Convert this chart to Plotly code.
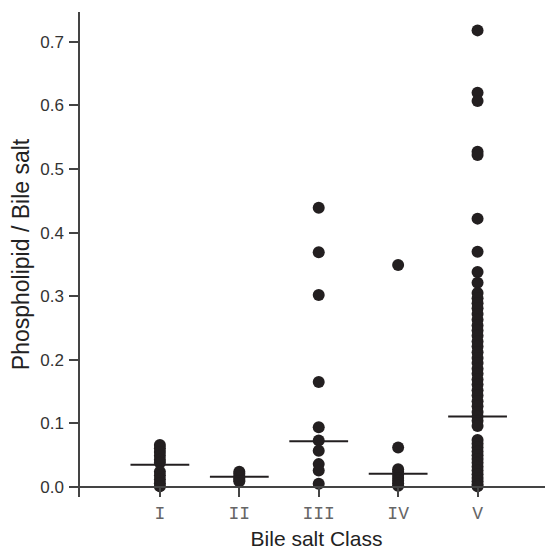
import plotly.graph_objects as go

categories = ["I", "II", "III", "IV", "V"]

class_I = [0.066, 0.061, 0.055, 0.049, 0.043, 0.038, 0.024, 0.018, 0.012, 0.006, 0.001]
class_II = [0.024, 0.021, 0.017, 0.014, 0.011, 0.009]
class_III = [0.439, 0.369, 0.302, 0.165, 0.094, 0.073, 0.057, 0.036, 0.026, 0.005]
class_IV = [0.349, 0.062, 0.028, 0.024, 0.019, 0.014, 0.010, 0.006, 0.002]
class_V = [0.718, 0.620, 0.607, 0.527, 0.522, 0.422, 0.370, 0.338, 0.321,
           0.305, 0.297, 0.289, 0.281, 0.272, 0.263, 0.254, 0.246, 0.238,
           0.229, 0.221, 0.212, 0.203, 0.195, 0.186, 0.178, 0.169, 0.161,
           0.152, 0.144, 0.135, 0.127, 0.118, 0.111, 0.104, 0.096, 0.074,
           0.068, 0.062, 0.056, 0.050, 0.044, 0.038, 0.032, 0.026, 0.020,
           0.014, 0.009, 0.004, 0.001]
medians = [0.035, 0.016, 0.072, 0.021, 0.111]

groups = [class_I, class_II, class_III, class_IV, class_V]

xs, ys = [], []
for cat, vals in zip(categories, groups):
    xs += [cat] * len(vals)
    ys += vals

fig = go.Figure()
fig.add_trace(go.Scatter(
    x=xs, y=ys, mode="markers",
    marker=dict(symbol="circle", size=12, color="#231f20", line=dict(width=0)),
    showlegend=False, hoverinfo="y"))
fig.add_trace(go.Scatter(
    x=categories, y=medians, mode="markers",
    marker=dict(symbol="line-ew-open", size=42, color="#231f20",
                line=dict(width=2, color="#231f20")),
    showlegend=False, hoverinfo="y"))

# page body has an 8px margin, so the figure is sized/offset to compensate
fig.update_layout(
    width=545, height=542,
    margin=dict(l=72, r=0, t=4, b=53),
    paper_bgcolor="white", plot_bgcolor="white",
    font=dict(family="Liberation Sans, Arial, sans-serif", color="#333333"),
    xaxis=dict(
        type="category", categoryorder="array", categoryarray=categories,
        range=[-1.006, 4.95],
        anchor="free", position=0.0206,
        showline=True, linecolor="#444444", linewidth=1.5,
        ticks="outside", ticklen=9, tickcolor="#444444", tickwidth=1.5,
        tickfont=dict(family="Liberation Mono, Courier New, monospace", size=18, color="#666666"),
        ticklabelstandoff=1,
        showgrid=False, zeroline=False, automargin=False,
        title=dict(text="Bile salt Class", font=dict(size=21, color="#222222"), standoff=18),
    ),
    yaxis=dict(
        range=[-0.0157, 0.7469],
        tickvals=[0, 0.1, 0.2, 0.3, 0.4, 0.5, 0.6, 0.7],
        tickformat=".1f",
        showline=True, linecolor="#444444", linewidth=1.5,
        ticks="outside", ticklen=9, tickcolor="#444444", tickwidth=1.5,
        tickfont=dict(size=17, color="#333333"),
        ticklabelstandoff=2,
        showgrid=False, zeroline=False, automargin=False,
        title=dict(text="Phospholipid / Bile salt", font=dict(size=23, color="#222222"), standoff=10),
    ),
)

fig.write_html("out.html")
